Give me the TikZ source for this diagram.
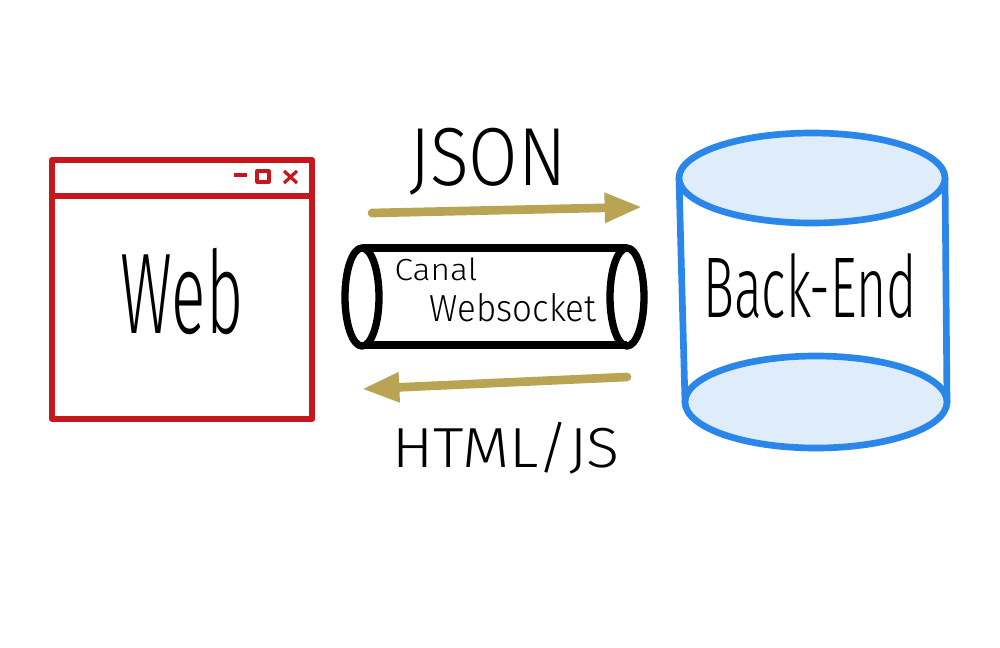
\documentclass[tikz,border=0pt]{standalone}
\usepackage{fontspec}
\setmainfont{Fira Sans}[UprightFont=* Light]
\usetikzlibrary{arrows.meta}
\definecolor{winred}{HTML}{C8171C}
\definecolor{khaki}{HTML}{B8A452}
\definecolor{dbblue}{HTML}{2B86EA}
\definecolor{dbfill}{HTML}{DFECFA}
\begin{document}
\begin{tikzpicture}[x=0.75pt,y=-0.75pt,line join=round,
  winline/.style={draw=winred,line width=4.5pt},
  winbtn/.style={draw=winred,line width=2.4pt},
  pipe/.style={draw=black,line width=5.5pt},
  db/.style={draw=dbblue,line width=5pt},
  flow/.style={draw=khaki,line width=6.5pt,line cap=round,-{Triangle[length=28pt,width=21pt]}},
  hand/.style={inner sep=0pt,text=black,anchor=base}]
\useasboundingbox[fill=white] (0,0) rectangle (1000,647);

% browser window
\draw[winline] (52,160) rectangle (312,419);
\draw[winline] (52,196) -- (312,196);
\draw[winbtn] (234,175) -- (247,175);
\draw[winbtn] (257,171) rectangle (269,182);
\draw[winbtn] (284,171) -- (297,183) (297,171) -- (284,183);
\node[hand] (web) at (182,333) {\resizebox{92pt}{64pt}{Web}};

% websocket pipe
\fill[white] (362,248) rectangle (627,345);
\draw[pipe] (362,248) -- (627,248) (362,345) -- (627,345);
\draw[pipe,fill=white] (362,297) ellipse [x radius=17,y radius=49];
\draw[pipe] (627,297) ellipse [x radius=17,y radius=49];
\node[hand] (canal) at (436,280) {\resizebox{62pt}{17pt}{Canal}};
\node[hand] (ws) at (513,321) {\resizebox{125pt}{21pt}{Websocket}};

% back-end store
\draw[db] (679,178) -- (685,402);
\draw[db] (945,178) -- (947,402);
\draw[db,fill=dbfill] (812,178) ellipse [x radius=133,y radius=45];
\draw[db,fill=dbfill] (816,402) ellipse [x radius=131,y radius=46];
\node[hand] (backend) at (810,317) {\resizebox{160pt}{48pt}{Back-End}};

% message flows
\coordinate (reqfrom) at (372,213);
\coordinate (reqto) at (642,207);
\draw[flow] (reqfrom) -- (reqto);
\node[hand] (json) at (488,185) {\resizebox{118pt}{43pt}{JSON}};

\coordinate (respfrom) at (627,377);
\coordinate (respto) at (362,389);
\draw[flow] (respfrom) -- (respto);
\node[hand] (html) at (506,467) {\resizebox{171pt}{34pt}{HTML/JS}};
\end{tikzpicture}
\end{document}
